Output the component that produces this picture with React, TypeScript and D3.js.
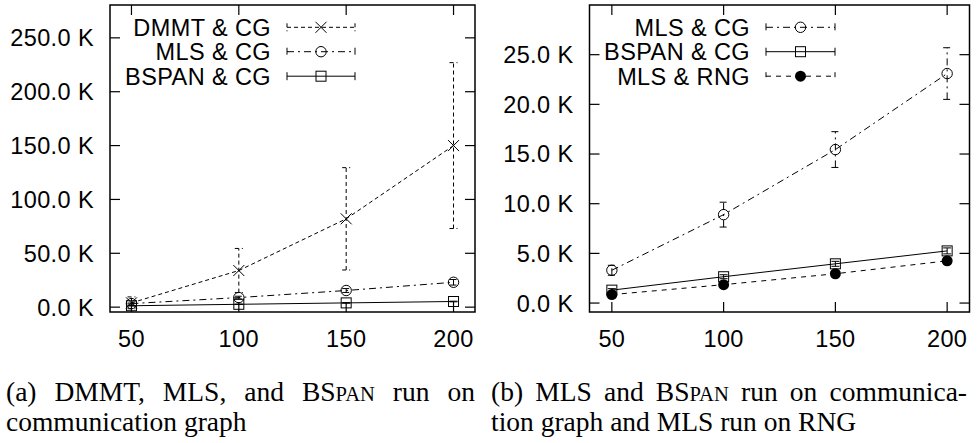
import React, { useLayoutEffect, useRef, useState } from "react";
import * as d3 from "d3";

// ---------- data ----------
const xValues = [50, 100, 150, 200];
const xTicks = [50, 100, 150, 200];
const leftYTicks = [0, 50000, 100000, 150000, 200000, 250000];
const rightYTicks = [0, 5000, 10000, 15000, 20000, 25000];

const dmmtCgMean = [4000, 34000, 82000, 150000];
const dmmtCgErr = [5500, 20500, 47500, 77000];
const mlsCgMean = [3300, 8900, 15450, 23100];
const mlsCgErr = [500, 1250, 1800, 2600];
const bspanCgMean = [1300, 2650, 3950, 5250];
const bspanCgErr = [150, 200, 250, 300];
const mlsRngMean = [850, 1850, 2950, 4250];
const mlsRngErr = [100, 150, 200, 300];

type Marker = "cross" | "circle" | "square" | "dot";
interface Series {
  label: string;
  mean: number[];
  err: number[];
  dash: string;
  marker: Marker;
}

const leftSeries: Series[] = [
  { label: "DMMT & CG", mean: dmmtCgMean, err: dmmtCgErr, dash: "4,3", marker: "cross" },
  { label: "MLS & CG", mean: mlsCgMean, err: mlsCgErr, dash: "7,4,2,4", marker: "circle" },
  { label: "BSPAN & CG", mean: bspanCgMean, err: bspanCgErr, dash: "", marker: "square" },
];
const rightSeries: Series[] = [
  { label: "MLS & CG", mean: mlsCgMean, err: mlsCgErr, dash: "7,4,2,4", marker: "circle" },
  { label: "BSPAN & CG", mean: bspanCgMean, err: bspanCgErr, dash: "", marker: "square" },
  { label: "MLS & RNG", mean: mlsRngMean, err: mlsRngErr, dash: "5,5", marker: "dot" },
];

const SANS = "'Liberation Sans', Arial, sans-serif";
const SERIF = "'Liberation Serif', 'Times New Roman', serif";
const TICK_SIZE = 23.5;
const TICK_LS = 0.4;

function MarkerShape({ type, x, y }: { type: Marker; x: number; y: number }) {
  if (type === "cross") {
    const s = 5.5;
    return (
      <path d={`M${x - s},${y - s}L${x + s},${y + s}M${x - s},${y + s}L${x + s},${y - s}`} stroke="#000" strokeWidth={1} fill="none" />
    );
  }
  if (type === "circle") return <circle cx={x} cy={y} r={5.2} stroke="#000" strokeWidth={1} fill="none" />;
  if (type === "square") return <rect x={x - 5} y={y - 5} width={10} height={10} stroke="#000" strokeWidth={1} fill="none" />;
  return <circle cx={x} cy={y} r={5.5} fill="#000" />;
}

interface PanelProps {
  x0: number; x1: number; y0: number; y1: number;
  yDomain: [number, number];
  yTicks: number[];
  series: Series[];
  legendTextX: number;
  legendSample: [number, number];
}

function Panel({ x0, x1, y0, y1, yDomain, yTicks, series, legendTextX, legendSample }: PanelProps) {
  const xs = d3.scaleLinear().domain([40, 210]).range([x0, x1]);
  const ys = d3.scaleLinear().domain(yDomain).range([y1, y0]);
  const tl = 10;
  const fmt = (v: number) => (v / 1000).toFixed(1) + " K";
  const legendRows = [27.3, 51.7, 76.2];
  const cap = 4;
  return (
    <g>
      {series.map((s, si) => {
        const line = d3.line<number>().x((_, i) => xs(xValues[i])).y((v) => ys(v));
        return (
          <g key={si}>
            <path d={line(s.mean) || ""} fill="none" stroke="#000" strokeWidth={1} strokeDasharray={s.dash || undefined} />
            {s.mean.map((m, i) => {
              const cx = xs(xValues[i]);
              const hi = ys(m + s.err[i]);
              const lo = ys(m - s.err[i]);
              return (
                <g key={i}>
                  <path
                    d={`M${cx},${lo}L${cx},${hi}M${cx - cap},${hi}L${cx + cap},${hi}M${cx - cap},${lo}L${cx + cap},${lo}`}
                    stroke="#000" strokeWidth={1} fill="none" strokeDasharray={s.dash || undefined}
                  />
                  <MarkerShape type={s.marker} x={cx} y={ys(m)} />
                </g>
              );
            })}
          </g>
        );
      })}
      <rect x={x0} y={y0} width={x1 - x0} height={y1 - y0} fill="none" stroke="#000" strokeWidth={1.5} />
      {xTicks.map((t) => (
        <g key={"x" + t}>
          <line x1={xs(t)} x2={xs(t)} y1={y1} y2={y1 - tl} stroke="#000" strokeWidth={1.2} />
          <line x1={xs(t)} x2={xs(t)} y1={y0} y2={y0 + tl} stroke="#000" strokeWidth={1.2} />
          <text x={xs(t)} y={y1 + 35} textAnchor="middle" fontFamily={SANS} fontSize={TICK_SIZE} letterSpacing={TICK_LS} fill="#000">{t}</text>
        </g>
      ))}
      {yTicks.map((t) => (
        <g key={"y" + t}>
          <line x1={x0} x2={x0 + tl} y1={ys(t)} y2={ys(t)} stroke="#000" strokeWidth={1.2} />
          <line x1={x1} x2={x1 - tl} y1={ys(t)} y2={ys(t)} stroke="#000" strokeWidth={1.2} />
          <text x={x0 - 16} y={ys(t)} dy="0.36em" textAnchor="end" fontFamily={SANS} fontSize={TICK_SIZE} letterSpacing={TICK_LS} fill="#000">{fmt(t)}</text>
        </g>
      ))}
      {series.map((s, i) => {
        const cy = legendRows[i];
        const [a, b] = legendSample;
        const mid = (a + b) / 2;
        return (
          <g key={"l" + i}>
            <text x={legendTextX} y={cy} dy="0.36em" textAnchor="end" fontFamily={SANS} fontSize={TICK_SIZE} letterSpacing={TICK_LS} fill="#000">{s.label}</text>
            <path
              d={`M${a},${cy}L${b},${cy}M${a},${cy - cap}L${a},${cy + cap}M${b},${cy - cap}L${b},${cy + cap}`}
              stroke="#000" strokeWidth={1} fill="none" strokeDasharray={s.dash || undefined}
            />
            <MarkerShape type={s.marker} x={mid} y={cy} />
          </g>
        );
      })}
    </g>
  );
}

type Seg = { t: string; small?: boolean };
type Word = Seg[];
interface CapLine { words: Word[]; justify: boolean; }

const w = (s: string): Word => [{ t: s }];
const bspanWord: Word = [{ t: "BS" }, { t: "PAN", small: true }];

const captionA: CapLine[] = [
  { words: [w("(a)"), w("DMMT,"), w("MLS,"), w("and"), bspanWord, w("run"), w("on")], justify: true },
  { words: [w("communication"), w("graph")], justify: false },
];
const captionB: CapLine[] = [
  { words: [w("(b)"), w("MLS"), w("and"), bspanWord, w("run"), w("on"), w("communica-")], justify: true },
  { words: [w("tion"), w("graph"), w("and"), w("MLS"), w("run"), w("on"), w("RNG")], justify: false },
];

const CAP_SIZE = 27.5;

function Caption({ lines, x, width, baselines }: { lines: CapLine[]; x: number; width: number; baselines: number[] }) {
  const refs = useRef<(SVGTextElement | null)[][]>([]);
  const [pos, setPos] = useState<number[][] | null>(null);
  useLayoutEffect(() => {
    const space = CAP_SIZE * 0.25;
    const res = lines.map((ln, li) => {
      const widths = ln.words.map((_, wi) => refs.current[li]?.[wi]?.getComputedTextLength() ?? 0);
      const total = widths.reduce((a, b) => a + b, 0);
      const gap = ln.justify && ln.words.length > 1 ? (width - total) / (ln.words.length - 1) : space;
      const out: number[] = [];
      let cur = x;
      widths.forEach((wd) => { out.push(cur); cur += wd + gap; });
      return out;
    });
    setPos(res);
  }, []);
  return (
    <g>
      {lines.map((ln, li) => {
        if (!refs.current[li]) refs.current[li] = [];
        return ln.words.map((wd, wi) => (
          <text
            key={li + "-" + wi}
            ref={(el) => { refs.current[li][wi] = el; }}
            x={pos ? pos[li][wi] : x + wi * 60}
            y={baselines[li]}
            fontFamily={SERIF}
            fontSize={CAP_SIZE}
            fill="#000"
          >
            {wd.map((sg, si) => (
              <tspan key={si} fontSize={sg.small ? CAP_SIZE * 0.75 : CAP_SIZE}>{sg.t}</tspan>
            ))}
          </text>
        ));
      })}
    </g>
  );
}

export default function App() {
  return (
    <svg width={977} height={443} style={{ position: "absolute", left: 0, top: 0, background: "#fff" }}>
      <rect width={977} height={443} fill="#fff" />
      <Panel
        x0={110} x1={475} y0={5} y1={312}
        yDomain={[-4500, 280500]} yTicks={leftYTicks} series={leftSeries}
        legendTextX={271} legendSample={[287, 355]}
      />
      <Panel
        x0={589.5} x1={969.5} y0={5} y1={312}
        yDomain={[-900, 30000]} yTicks={rightYTicks} series={rightSeries}
        legendTextX={750} legendSample={[766, 835]}
      />
      <Caption lines={captionA} x={6} width={469} baselines={[401, 431]} />
      <Caption lines={captionB} x={491} width={476} baselines={[401, 431]} />
    </svg>
  );
}
